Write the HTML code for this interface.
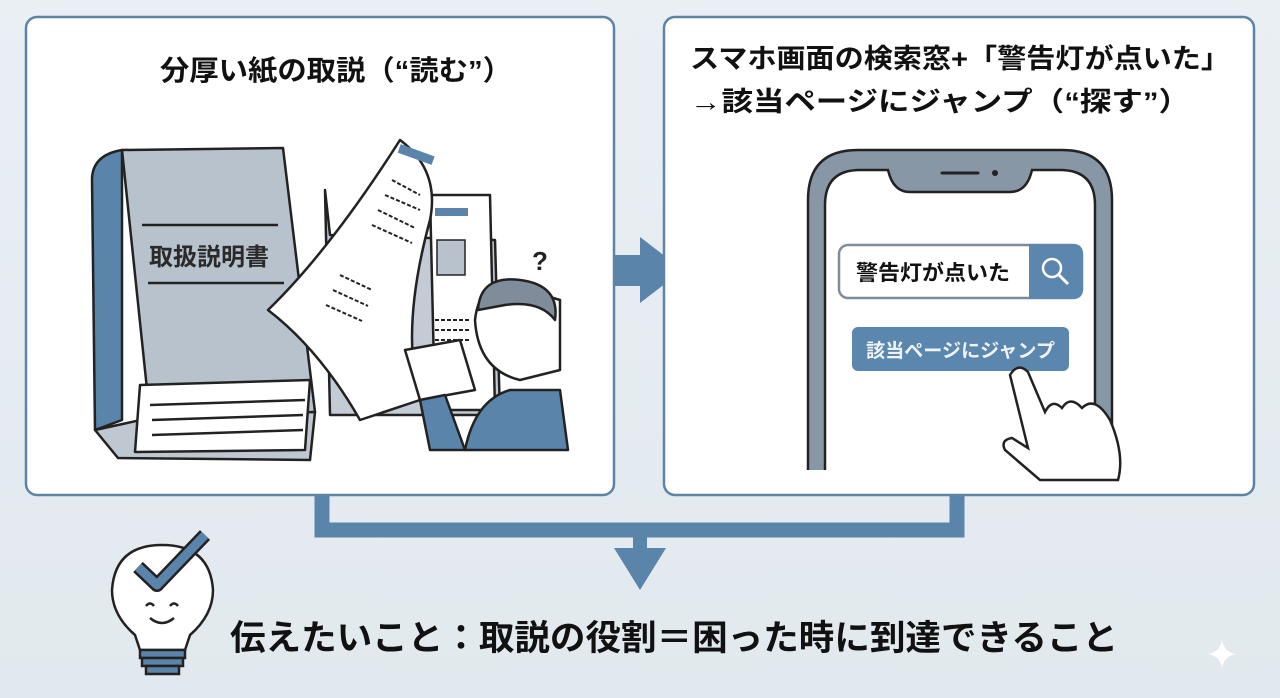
<!DOCTYPE html>
<html><head><meta charset="utf-8"><style>
body{margin:0;width:1280px;height:698px;overflow:hidden;background:linear-gradient(180deg,#e9eff3,#e2e9ee);font-family:"Liberation Sans","Noto Sans CJK JP",sans-serif}
svg{display:block}
text{font-family:"Liberation Sans","Noto Sans CJK JP",sans-serif;font-weight:bold}
</style></head><body>
<svg width="1280" height="698" viewBox="0 0 1280 698">
<path d="M322 495 V530 H957 V495" fill="none" stroke="#5b84aa" stroke-width="15"/>
<rect x="633" y="530" width="14" height="20" fill="#5b84aa"/>
<polygon points="614,548 666,548 640,590" fill="#5b84aa"/>
<rect x="597" y="255" width="45" height="31" fill="#5b84aa"/>
<polygon points="640,237 683,270 640,303" fill="#5b84aa"/>
<rect x="26" y="17" width="588" height="478" rx="11" fill="#fff" stroke="#5f83a6" stroke-width="2.5"/>
<rect x="664" y="17" width="590" height="478" rx="11" fill="#fff" stroke="#5f83a6" stroke-width="2.5"/>
<text x="160" y="80" font-size="28" textLength="352" lengthAdjust="spacingAndGlyphs" fill="#111">分厚い紙の取説（“読む”）</text>
<text x="690" y="68" font-size="27" textLength="540" lengthAdjust="spacingAndGlyphs" fill="#111">スマホ画面の検索窓+「警告灯が点いた」</text>
<text x="690" y="111" font-size="27" textLength="500" lengthAdjust="spacingAndGlyphs" fill="#111">→該当ページにジャンプ（“探す”）</text>
<g stroke="#222" stroke-width="2.5" stroke-linejoin="round">
<path d="M92 180 Q92 155 122 150 L122 420 L95 430 Z" fill="#5b84aa"/>
<path d="M122 150 L283 148 L315 412 L150 418 Z" fill="#b8c2cd"/>
<path d="M95 430 L150 418 L315 412 L310 460 L118 458 Z" fill="#bfc7d0"/>
<path d="M140 385 L310 380 L305 450 L135 452 Z" fill="#fff"/>
<path d="M325 190 L330 415 L500 415 L495 240 L330 235 Z" fill="#c3cbd4"/>
<path d="M430 195 L490 195 L495 410 L435 410 Z" fill="#fff"/>
<path d="M400 140 Q440 170 430 220 Q400 330 420 400 L360 420 Q320 350 268 310 Q330 250 400 140Z" fill="#fff"/>
<path d="M405 350 L460 340 L475 390 L420 400 Z" fill="#fff"/>
<path d="M520 288 Q480 275 475 320 Q478 370 520 380 L560 370 L560 300 Z" fill="#fff"/>
<path d="M478 310 Q480 275 520 280 Q560 285 555 320 Q540 300 505 305 Z" fill="#7f8d9a"/>
<path d="M465 450 Q475 400 510 390 L560 390 L568 450 Z" fill="#5b84aa"/>
<path d="M420 400 L430 450 L465 450 L445 395 Z" fill="#5b84aa"/>
</g>
<g stroke="#222" stroke-width="2.5"><line x1="142" y1="225" x2="278" y2="225"/><line x1="148" y1="283" x2="284" y2="283"/>
<line x1="150" y1="405" x2="305" y2="400"/><line x1="152" y1="420" x2="303" y2="415"/><line x1="152" y1="435" x2="303" y2="430"/></g>
<text x="149" y="265" font-size="24" fill="#2a2a2a">取扱説明書</text>
<rect x="398" y="150" width="36" height="9" fill="#5b84aa" transform="rotate(20 416 155)"/>
<rect x="435" y="208" width="33" height="8" fill="#5b84aa"/>
<rect x="437" y="240" width="28" height="35" fill="#b8c2cd" stroke="#222" stroke-width="1.5"/>
<g stroke="#222" stroke-width="2" stroke-dasharray="4 2">
<line x1="392" y1="180" x2="420" y2="195"/><line x1="385" y1="195" x2="420" y2="210"/><line x1="378" y1="210" x2="415" y2="228"/><line x1="372" y1="225" x2="412" y2="243"/>
<line x1="340" y1="275" x2="372" y2="290"/><line x1="333" y1="290" x2="368" y2="306"/><line x1="326" y1="305" x2="362" y2="321"/>
<line x1="435" y1="320" x2="470" y2="320"/><line x1="435" y1="330" x2="470" y2="330"/><line x1="435" y1="340" x2="470" y2="340"/></g>
<text x="532" y="270" font-size="26" fill="#222" font-weight="normal">?</text>
<path d="M808 470 V200 Q808 150 858 150 H1062 Q1112 150 1112 200 V470" fill="#8897a6" stroke="#222" stroke-width="2.5"/>
<path d="M825 470 V205 Q825 170 860 170 H888 Q893 192 910 192 H1010 Q1027 192 1032 170 H1060 Q1095 170 1095 205 V470" fill="#fff" stroke="#222" stroke-width="2.5"/>
<line x1="942" y1="173" x2="978" y2="173" stroke="#222" stroke-width="3" stroke-linecap="round"/>
<circle cx="995" cy="173" r="3" fill="#222"/>
<rect x="839" y="245" width="243" height="53" rx="9" fill="#fff" stroke="#7e8c99" stroke-width="2.5"/>
<path d="M1029 244 H1073 Q1083 244 1083 254 V289 Q1083 299 1073 299 H1029 Z" fill="#5b86ad"/>
<circle cx="1052" cy="268" r="9" fill="none" stroke="#fff" stroke-width="2.5"/><line x1="1059" y1="275" x2="1068" y2="284" stroke="#fff" stroke-width="3"/>
<text x="856" y="280" font-size="21" textLength="154" lengthAdjust="spacingAndGlyphs" fill="#111">警告灯が点いた</text>
<rect x="852" y="327" width="217" height="44" rx="6" fill="#5b86ad"/>
<text x="866" y="357" font-size="19" textLength="189" lengthAdjust="spacingAndGlyphs" fill="#eef3f8" font-weight="normal">該当ページにジャンプ</text>
<path d="M1010 375 Q1018 362 1028 372 L1045 412 Q1052 398 1062 408 Q1070 395 1082 408 Q1095 395 1110 420 Q1125 455 1118 480 L1040 480 L1005 450 Q1000 440 1012 438 L1028 448 Z" fill="#fff" stroke="#222" stroke-width="2.5"/>
<g stroke="#222" stroke-width="2.5">
<path d="M162 545 Q115 545 112 590 Q112 615 135 635 L140 650 H185 L190 635 Q213 615 213 590 Q210 545 162 545Z" fill="#fff"/>
<rect x="140" y="650" width="45" height="8" fill="#5b84aa"/><rect x="142" y="658" width="41" height="8" fill="#5b84aa"/><rect x="146" y="666" width="33" height="8" fill="#5b84aa"/>
</g>
<path d="M138 567 L157 585 L205 535" fill="none" stroke="#222" stroke-width="14" stroke-linejoin="round"/>
<path d="M138 567 L157 585 L205 535" fill="none" stroke="#5b84aa" stroke-width="9" stroke-linejoin="round"/>
<path d="M146 606 Q150 601 154 606 M170 606 Q174 601 178 606 M150 618 Q162 628 174 618" fill="none" stroke="#222" stroke-width="2.5"/>
<text x="230" y="650" font-size="35" textLength="888" lengthAdjust="spacingAndGlyphs" fill="#111">伝えたいこと：取説の役割＝困った時に到達できること</text>
<path d="M1222 640 Q1224 652 1236 654 Q1224 656 1222 668 Q1220 656 1208 654 Q1220 652 1222 640Z" fill="#fff"/>
</svg>
</body></html>
